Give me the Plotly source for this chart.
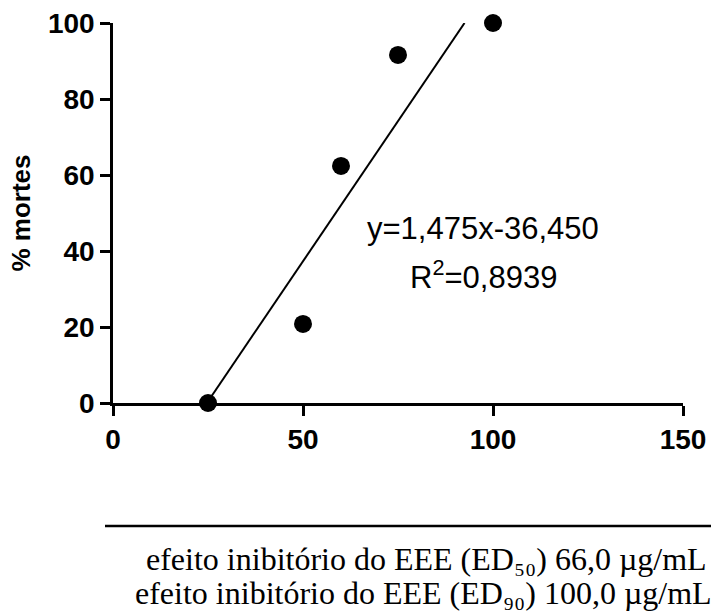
import plotly.graph_objects as go

# data
concentration = [25, 50, 60, 75, 100]
mortality = [0, 20.8, 62.4, 91.6, 100]
slope = 1.475
intercept = -36.450
r2_text = "0,8939"
fit_x = [(0 - intercept) / slope, (100 - intercept) / slope]
fit_y = [slope * v + intercept for v in fit_x]
x_ticks = [0, 50, 100, 150]
y_ticks = [0, 20, 40, 60, 80, 100]

L, R, T, B = 113, 28, 23, 209
W, H = 711, 612
pw, ph = W - L - R, H - T - B

def px(xp):
    return (xp - L) / pw

def py(yp):
    return (H - B - yp) / ph

fig = go.Figure()
fig.add_trace(go.Scatter(x=fit_x, y=fit_y, mode="lines",
                         line=dict(color="black", width=2), cliponaxis=False,
                         showlegend=False))
fig.add_trace(go.Scatter(x=concentration, y=mortality, mode="markers",
                         marker=dict(color="black", size=18), cliponaxis=False,
                         showlegend=False))

fig.add_annotation(x=97.3, y=46.0, xref="x", yref="y", text="y=1,475x-36,450",
                   showarrow=False, font=dict(family="Liberation Sans, Arial", size=31, color="black"))
fig.add_annotation(x=97.4, y=33.6, xref="x", yref="y", text="R<sup>2</sup>=" + r2_text,
                   showarrow=False, font=dict(family="Liberation Sans, Arial", size=31, color="black"))

fig.add_shape(type="line", xref="paper", yref="paper", x0=px(105), x1=px(711),
              y0=py(526), y1=py(526), line=dict(color="black", width=2.5))
fig.add_annotation(x=px(708), y=py(559), xref="paper", yref="paper",
                   xanchor="right", yanchor="middle", showarrow=False, borderpad=0,
                   text="efeito inibitório do EEE (ED₅₀) 66,0 µg/mL",
                   font=dict(family="Liberation Serif, Times New Roman", size=32, color="black"))
fig.add_annotation(x=px(713), y=py(593), xref="paper", yref="paper",
                   xanchor="right", yanchor="middle", showarrow=False, borderpad=0,
                   text="efeito inibitório do EEE (ED₉₀) 100,0 µg/mL",
                   font=dict(family="Liberation Serif, Times New Roman", size=32, color="black"))

axis_common = dict(showline=True, linecolor="black", linewidth=2.5, ticks="outside",
                   ticklen=10, tickwidth=2.5, tickcolor="black", showgrid=False,
                   zeroline=False, automargin=False,
                   tickfont=dict(family="Liberation Sans, Arial", size=28, color="black", weight="bold"))
fig.update_xaxes(range=[0, 150], tickvals=x_ticks, **axis_common)
fig.update_yaxes(range=[0, 100], tickvals=y_ticks,
                 title=dict(text="% mortes", standoff=10,
                            font=dict(family="Liberation Sans, Arial", size=26, color="black", weight="bold")),
                 **axis_common)

fig.update_layout(width=W, height=H, margin=dict(l=L, r=R, t=T, b=B),
                  plot_bgcolor="white", paper_bgcolor="white")
fig.write_html("out.html")
